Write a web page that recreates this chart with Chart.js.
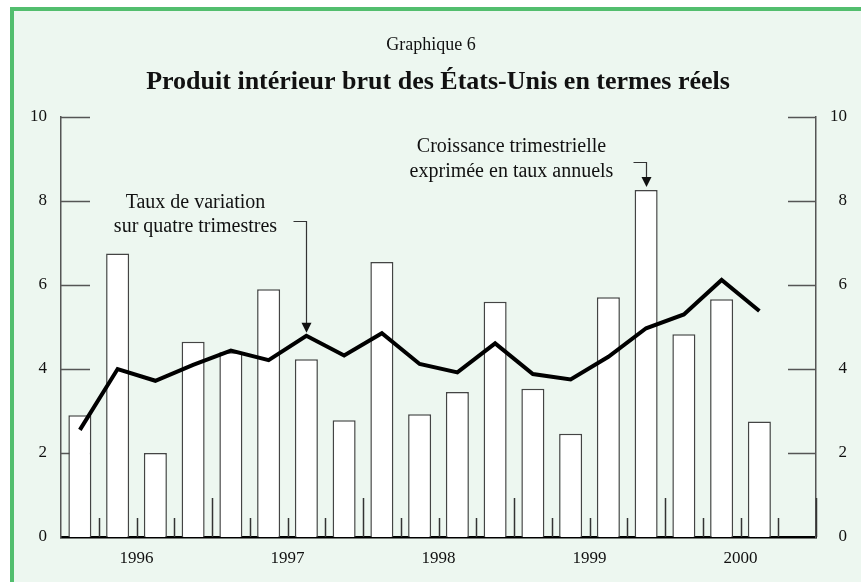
<!DOCTYPE html>
<html lang="fr">
<head>
<meta charset="utf-8">
<title>Graphique 6</title>
<script src="https://cdn.jsdelivr.net/npm/chart.js@4/dist/chart.umd.min.js"></script>
<style>
    html, body { margin: 0; padding: 0; background: #ffffff; }
    canvas { display: block; }
</style>
</head>
<body>
<canvas id="gdpChart" width="861" height="582"></canvas>
<script>
// Quarters 1996 T1 .. 2000 T4
const quarters = [
    '1996 T1', '1996 T2', '1996 T3', '1996 T4',
    '1997 T1', '1997 T2', '1997 T3', '1997 T4',
    '1998 T1', '1998 T2', '1998 T3', '1998 T4',
    '1999 T1', '1999 T2', '1999 T3', '1999 T4',
    '2000 T1', '2000 T2', '2000 T3', '2000 T4'
];
const years = ['1996', '1997', '1998', '1999', '2000'];
const yearTickPos = [2, 6, 10, 14, 18];      // middle of each year, in quarters
const yTicks = [0, 2, 4, 6, 8, 10];

// Croissance trimestrielle exprimée en taux annuels (bars)
const quarterlyGrowth = [
    2.9, 6.75, 2.0, 4.65,
    4.4, 5.9, 4.23, 2.78,
    6.55, 2.92, 3.45, 5.6,
    3.53, 2.46, 5.71, 8.26,
    4.83, 5.66, 2.75, null
];
// Taux de variation sur quatre trimestres (line)
const fourQuarterChange = [
    2.55, 4.0, 3.72, 4.1,
    4.44, 4.21, 4.79, 4.32,
    4.85, 4.12, 3.92, 4.61,
    3.88, 3.75, 4.29, 4.97,
    5.3, 6.12, 5.38, null
];

const SERIF = '"Liberation Serif", "Times New Roman", "DejaVu Serif", serif';
const GREY = '#555555';

// Background, frame and titles
const framePlugin = {
    id: 'frame',
    beforeDraw(chart) {
        const ctx = chart.ctx;
        ctx.save();
        ctx.fillStyle = '#ffffff';
        ctx.fillRect(0, 0, chart.width, chart.height);
        ctx.fillStyle = '#edf7f0';
        ctx.fillRect(12, 9, chart.width - 12, chart.height - 9);
        ctx.fillStyle = '#52be6e';
        ctx.fillRect(10, 7, chart.width - 10, 4);
        ctx.fillRect(10, 7, 4, chart.height - 7);
        ctx.restore();
    },
    afterDraw(chart) {
        const ctx = chart.ctx;
        ctx.save();
        ctx.fillStyle = '#111111';
        ctx.textAlign = 'center';
        ctx.textBaseline = 'middle';
        ctx.font = '18px ' + SERIF;
        ctx.fillText('Graphique 6', 431, 45);
        ctx.font = 'bold 26px ' + SERIF;
        ctx.fillText('Produit intérieur brut des États-Unis en termes réels', 438, 82);
        ctx.restore();
    }
};

// Inner tick marks on both vertical axes and along the time axis
const innerTicksPlugin = {
    id: 'innerTicks',
    beforeDatasetsDraw(chart) {
        const ctx = chart.ctx;
        const area = chart.chartArea;
        const y = chart.scales.y;
        const t = chart.scales.x2;
        ctx.save();
        ctx.strokeStyle = GREY;
        ctx.lineWidth = 1.5;
        yTicks.forEach(v => {
            if (v === 0) return;
            const py = Math.round(y.getPixelForValue(v)) + 0.5;
            ctx.beginPath();
            ctx.moveTo(area.left, py);
            ctx.lineTo(area.left + 29, py);
            ctx.moveTo(area.right - 28, py);
            ctx.lineTo(area.right, py);
            ctx.stroke();
        });
        ctx.strokeStyle = '#333333';
        for (let i = 1; i <= quarters.length; i++) {
            const px = Math.round(t.getPixelForValue(i)) + 0.5;
            const len = i % 4 === 0 ? 39 : 19;
            ctx.beginPath();
            ctx.moveTo(px, area.bottom);
            ctx.lineTo(px, area.bottom - len);
            ctx.stroke();
        }
        ctx.restore();
    }
};

// Labels with their arrows, anchored on the data they point at
const calloutPlugin = {
    id: 'callouts',
    afterDatasetsDraw(chart) {
        const ctx = chart.ctx;
        const x = chart.scales.x;
        const y = chart.scales.y;

        function arrow(ax, tipY, elbowY) {
            ctx.strokeStyle = '#333333';
            ctx.lineWidth = 1.2;
            ctx.beginPath();
            ctx.moveTo(ax - 13, elbowY);
            ctx.lineTo(ax, elbowY);
            ctx.lineTo(ax, tipY - 9);
            ctx.stroke();
            ctx.fillStyle = '#111111';
            ctx.beginPath();
            ctx.moveTo(ax - 5, tipY - 10);
            ctx.lineTo(ax + 5, tipY - 10);
            ctx.lineTo(ax, tipY);
            ctx.closePath();
            ctx.fill();
        }

        ctx.save();
        ctx.font = '20px ' + SERIF;
        ctx.textAlign = 'center';
        ctx.textBaseline = 'middle';

        // four-quarter change, 1997 T3
        const i1 = 6;
        const ax1 = Math.round(x.getPixelForValue(i1)) + 0.5;
        const tip1 = y.getPixelForValue(fourQuarterChange[i1]) - 3;
        arrow(ax1, tip1, 221.5);
        ctx.fillStyle = '#111111';
        ctx.fillText('Taux de variation', ax1 - 111, 203);
        ctx.fillText('sur quatre trimestres', ax1 - 111, 227);

        // quarterly growth, 1999 T4
        const i2 = 15;
        const ax2 = Math.round(x.getPixelForValue(i2)) + 0.5;
        const tip2 = y.getPixelForValue(quarterlyGrowth[i2]) - 3;
        arrow(ax2, tip2, 162.5);
        ctx.fillStyle = '#111111';
        ctx.fillText('Croissance trimestrielle', ax2 - 135, 147);
        ctx.fillText('exprimée en taux annuels', ax2 - 135, 172);
        ctx.restore();
    }
};

const ctx = document.getElementById('gdpChart').getContext('2d');
const gdpChart = new Chart(ctx, {
    type: 'bar',
    data: {
        labels: quarters,
        datasets: [{
            type: 'line',
            label: 'Taux de variation sur quatre trimestres',
            data: fourQuarterChange,
            borderColor: '#000000',
            borderWidth: 4,
            pointRadius: 0,
            tension: 0,
            borderJoinStyle: 'miter',
            order: 0
        }, {
            type: 'bar',
            label: 'Croissance trimestrielle exprimée en taux annuels',
            data: quarterlyGrowth,
            backgroundColor: '#ffffff',
            borderColor: '#444444',
            borderWidth: 1.5,
            barPercentage: 0.61,
            categoryPercentage: 1,
            order: 1
        }]
    },
    options: {
        responsive: false,
        animation: false,
        devicePixelRatio: 1,
        layout: {
            padding: { top: 117, right: 14, bottom: 0, left: 0 }
        },
        plugins: {
            legend: { display: false },
            tooltip: { enabled: false },
            title: { display: false }
        },
        scales: {
            x: {
                type: 'category',
                display: false,
                offset: true,
                grid: { display: false }
            },
            x2: {
                type: 'linear',
                position: 'bottom',
                min: 0,
                max: quarters.length,
                offset: false,
                bounds: 'data',
                grid: { display: false, drawTicks: false, offset: false },
                border: { display: true, color: '#000000', width: 2.5 },
                afterBuildTicks: axis => {
                    axis.ticks = yearTickPos.map(v => ({ value: v }));
                },
                afterFit: axis => { axis.height = 45; },
                ticks: {
                    autoSkip: false,
                    maxRotation: 0,
                    padding: 11,
                    color: '#111111',
                    font: { family: SERIF, size: 17 },
                    callback: (value, index) => years[index]
                }
            },
            y: {
                type: 'linear',
                position: 'left',
                min: 0,
                max: 10,
                grid: { display: false, drawTicks: false },
                border: { display: true, color: GREY, width: 1.5 },
                afterBuildTicks: axis => {
                    axis.ticks = yTicks.map(v => ({ value: v }));
                },
                afterFit: axis => { axis.width = 61; },
                ticks: {
                    padding: 14,
                    color: '#111111',
                    font: { family: SERIF, size: 17 }
                }
            },
            y2: {
                type: 'linear',
                position: 'right',
                min: 0,
                max: 10,
                grid: { display: false, drawTicks: false },
                border: { display: true, color: GREY, width: 1.5 },
                afterBuildTicks: axis => {
                    axis.ticks = yTicks.map(v => ({ value: v }));
                },
                afterFit: axis => { axis.width = 31; },
                ticks: {
                    crossAlign: 'far',
                    color: '#111111',
                    font: { family: SERIF, size: 17 }
                }
            }
        }
    },
    plugins: [framePlugin, innerTicksPlugin, calloutPlugin]
});
</script>
</body>
</html>
